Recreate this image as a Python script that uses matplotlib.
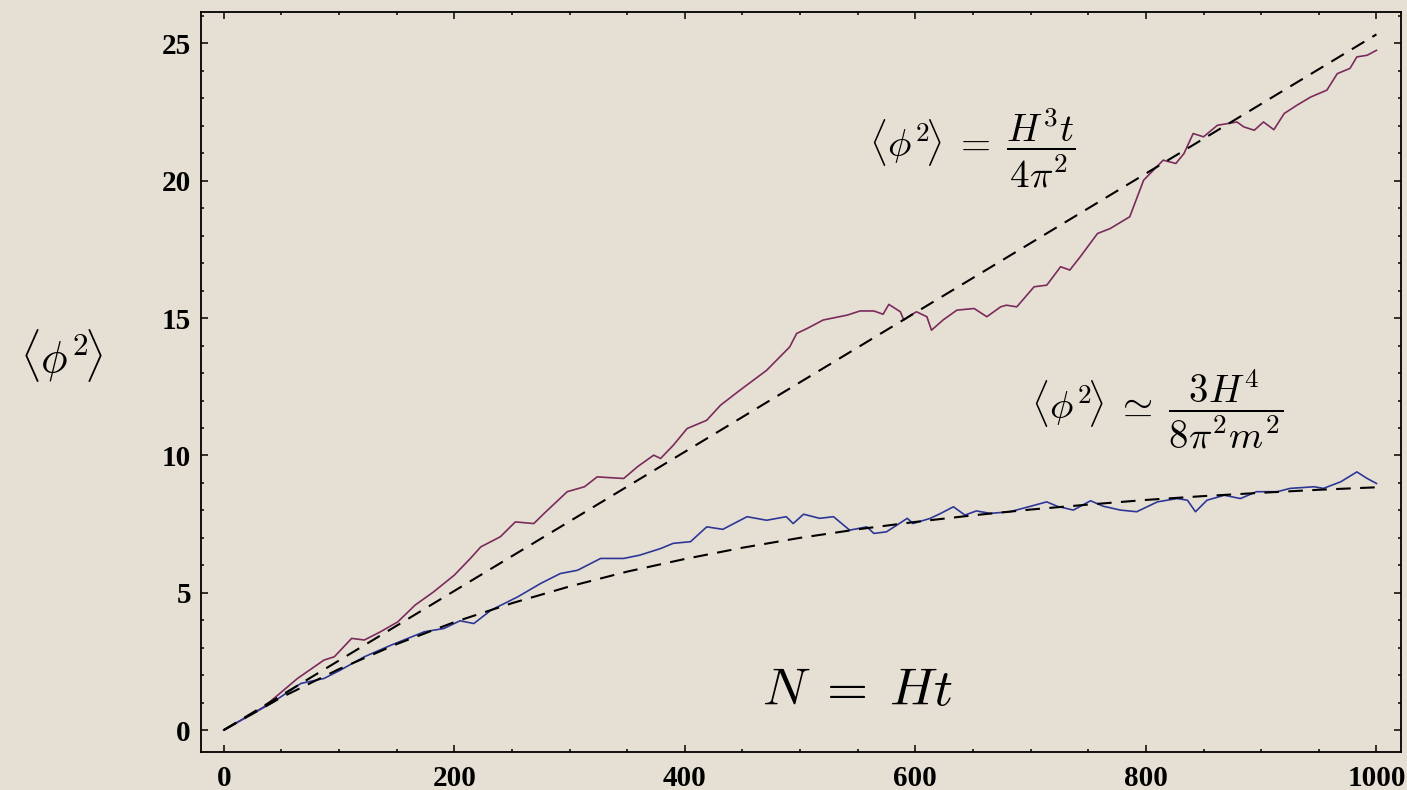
import matplotlib
matplotlib.use("Agg")
from matplotlib import pyplot as plt

# purple run: free field, <phi^2>
free_n = [0, 35, 64, 87, 96, 111, 122, 136, 151, 166, 182, 200, 214, 223, 240, 253, 269, 278,
          298, 313, 324, 347, 359, 373, 379, 390, 402, 419, 431, 448, 471, 491, 497, 506, 520,
          541, 552, 564, 572, 577, 587, 590, 596, 601, 610, 614, 624, 636, 651, 662, 674, 679,
          688, 703, 714, 726, 734, 743, 758, 769, 786, 798, 815, 826, 833, 841, 850, 862, 879,
          885, 894, 902, 911, 920, 931, 943, 957, 966, 977, 983, 992, 1000]
free_phi2 = [0, 0.85, 1.88, 2.55, 2.67, 3.34, 3.28, 3.58, 3.94, 4.55, 5.03, 5.64, 6.25, 6.67,
             7.04, 7.58, 7.52, 7.89, 8.68, 8.86, 9.22, 9.16, 9.59, 10.01, 9.89, 10.37, 10.98,
             11.28, 11.83, 12.38, 13.10, 13.95, 14.44, 14.62, 14.93, 15.11, 15.26, 15.26, 15.14,
             15.50, 15.23, 14.93, 15.11, 15.23, 15.05, 14.56, 14.93, 15.29, 15.35, 15.05, 15.41,
             15.47, 15.41, 16.14, 16.20, 16.87, 16.75, 17.23, 18.08, 18.26, 18.69, 20.02, 20.75,
             20.63, 20.99, 21.72, 21.60, 22.02, 22.14, 21.96, 21.84, 22.14, 21.86, 22.45, 22.75,
             23.05, 23.30, 23.90, 24.09, 24.51, 24.57, 24.75]

# blue run: massive field
mass_n = [0, 41, 67, 87, 101, 122, 145, 174, 191, 205, 217, 232, 255, 275, 292, 307, 327, 347,
          361, 379, 390, 405, 419, 433, 454, 471, 488, 494, 503, 517, 529, 543, 558, 564, 575,
          593, 598, 613, 622, 633, 643, 653, 665, 682, 700, 714, 723, 737, 752, 763, 778, 792,
          810, 827, 836, 843, 853, 868, 882, 896, 914, 925, 946, 954, 969, 983, 992, 1000]
mass_phi2 = [0, 0.97, 1.70, 1.88, 2.18, 2.67, 3.09, 3.58, 3.70, 3.98, 3.88, 4.37, 4.85, 5.34,
             5.70, 5.82, 6.25, 6.25, 6.37, 6.61, 6.80, 6.86, 7.40, 7.31, 7.77, 7.64, 7.77, 7.52,
             7.86, 7.71, 7.77, 7.28, 7.40, 7.16, 7.22, 7.71, 7.52, 7.71, 7.89, 8.13, 7.83, 7.98,
             7.89, 7.95, 8.15, 8.31, 8.15, 8.01, 8.35, 8.15, 8.01, 7.95, 8.31, 8.43, 8.37, 7.95,
             8.37, 8.55, 8.43, 8.68, 8.68, 8.80, 8.86, 8.80, 9.04, 9.40, 9.16, 8.98]

# dashed guide curves
free_theory_n = [0, 1000]
free_theory = [0, 25.33]
mass_theory_n = [0, 50, 100, 150, 200, 250, 300, 350, 400, 450, 500, 550, 600, 650, 700, 750,
                 800, 850, 900, 950, 1000]
mass_theory = [0, 1.19, 2.22, 3.13, 3.93, 4.62, 5.23, 5.77, 6.23, 6.64, 7.00, 7.31, 7.58, 7.82,
               8.03, 8.21, 8.38, 8.52, 8.64, 8.75, 8.84]

plt.rcParams['mathtext.fontset'] = 'cm'
bg = '#E6E0D4'

fig = plt.figure(figsize=(14.07, 7.9), dpi=100, facecolor=bg)
ax = fig.add_axes([0.1426, 0.048, 0.8529, 0.937])
ax.set_facecolor(bg)

ax.plot(free_n, free_phi2, color='#7B2A5C', lw=1.2)
ax.plot(mass_n, mass_phi2, color='#2E3797', lw=1.2)
ax.plot(free_theory_n, free_theory, color='black', lw=1.5, dashes=(7, 4.5))
ax.plot(mass_theory_n, mass_theory, color='black', lw=1.5, dashes=(7, 4.5))

ax.set_xlim(-20, 1021)
ax.set_ylim(-0.8, 26.15)
ax.set_xticks([0, 200, 400, 600, 800, 1000])
ax.set_xticks(range(0, 1001, 50), minor=True)
ax.set_yticks([0, 5, 10, 15, 20, 25])
ax.set_yticks(range(0, 27), minor=True)
ax.tick_params(which='both', direction='in', top=True, right=True, width=1.1, color='black')
ax.tick_params(which='major', length=5)
ax.tick_params(which='minor', length=2.5)
ax.tick_params(axis='x', pad=9)
ax.tick_params(axis='y', pad=7)
for lab in ax.get_xticklabels() + ax.get_yticklabels():
    lab.set_fontfamily('Liberation Serif')
    lab.set_fontweight('bold')
    lab.set_fontsize(21)
for sp in ax.spines.values():
    sp.set_linewidth(1.3)

fig.text(0.044, 0.55, r'$\langle\phi^{\mathbf{2}}\!\rangle$', fontsize=32, ha='center', va='center')
ax.text(560, 21.2, r'$\langle\phi^2\!\rangle\;=\;\dfrac{H^3t}{4\pi^2}$', fontsize=28,
        ha='left', va='center')
ax.text(700, 11.7, r'$\langle\phi^2\!\rangle\;\simeq\;\dfrac{3H^4}{8\pi^2m^2}$', fontsize=28,
        ha='left', va='center')
ax.text(550, 1.45, r'$N\;=\;Ht$', fontsize=38, ha='center', va='center')

fig.savefig('out.png', dpi=100, facecolor=bg)
